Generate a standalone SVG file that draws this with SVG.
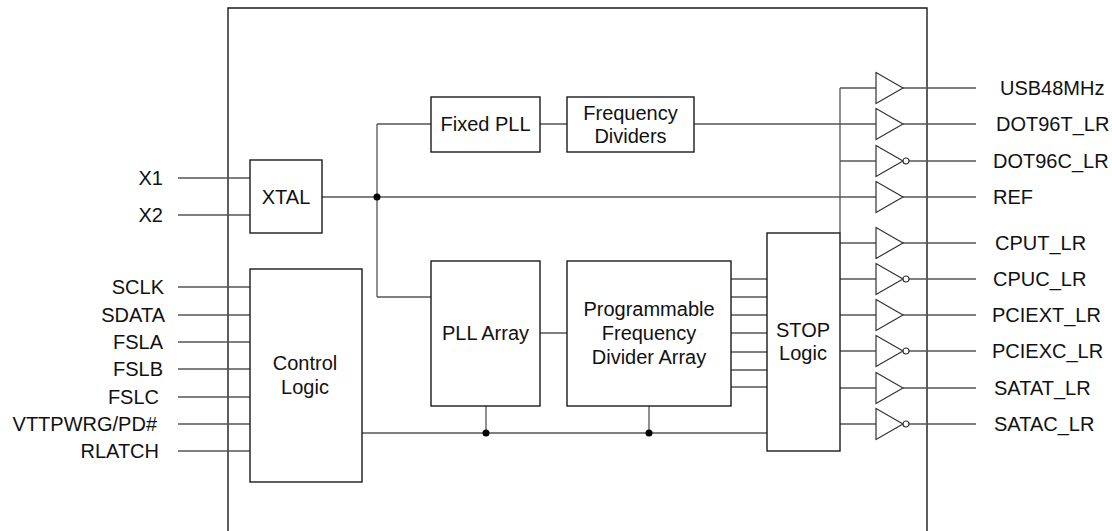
<svg xmlns="http://www.w3.org/2000/svg" xmlns:xlink="http://www.w3.org/1999/xlink" width="1112" height="531" viewBox="0 0 1112 531">
<style>
.box{fill:#fff;stroke:#1a1a1a;stroke-width:1.4}
.chip{fill:none;stroke:#1a1a1a;stroke-width:1.4}
.w{fill:none;stroke:#555;stroke-width:1.3}
.g{fill:#fff;stroke:#333;stroke-width:1.2}
.dot{fill:#000}
text{font-family:"Liberation Sans",Arial,sans-serif;font-size:20px;fill:#111}
.c{text-anchor:middle}
.e{text-anchor:end}
</style>
<defs>
<path id="buf" class="g" d="M0,-15.5 L0,15.5 L27,0 Z"/>
<g id="inv"><path class="g" d="M0,-15.5 L0,15.5 L27,0 Z"/><circle class="g" cx="30" cy="0" r="3"/></g>
</defs>
<rect width="1112" height="531" fill="#fff"/>
<path id="chip" class="chip" d="M228,535 V8 H927 V535"/>
<g id="connectors">
<path class="w" d="M178,178H250 M178,215H250 M178,287H250 M178,315H250 M178,342H250 M178,369H250 M178,397H250 M178,424H250 M178,451H250"/>
<path class="w" d="M322,197H876 M377,124V297 M377,124H431 M540,124H567 M694,124H876 M377,297H431 M540,333H567"/>
<path class="w" d="M731,279H767 M731,297H767 M731,315H767 M731,333H767 M731,352H767 M731,370H767 M731,387H767"/>
<path class="w" d="M362,433H767 M486,406V433 M649,406V433"/>
<path class="w" d="M840,233V88 M840,88H876 M840,161H876"/>
<path class="w" d="M840,243H876 M840,279H876 M840,315H876 M840,351H876 M840,388H876 M840,424H876"/>
<path class="w" d="M903,88H976 M903,124H976 M909,161H976 M903,197H976 M903,243H976 M909,279H976 M903,315H976 M909,351H976 M903,388H976 M909,424H976"/>
<circle class="dot" cx="377" cy="197" r="3.5"/>
<circle class="dot" cx="486" cy="433" r="3.5"/>
<circle class="dot" cx="649" cy="433" r="3.5"/>
</g>
<g id="pins-in">
<text class="e" x="163" y="185">X1</text>
<text class="e" x="163" y="222">X2</text>
<text class="e" x="164" y="294">SCLK</text>
<text class="e" x="165" y="322">SDATA</text>
<text class="e" x="163" y="349">FSLA</text>
<text class="e" x="163" y="376">FSLB</text>
<text class="e" x="159" y="404">FSLC</text>
<text class="e" x="157" y="431">VTTPWRG/PD#</text>
<text class="e" x="159" y="458">RLATCH</text>
</g>
<g id="xtal"><rect class="box" x="250" y="160" width="72" height="73"/><text class="c" x="286" y="204">XTAL</text></g>
<g id="control-logic"><rect class="box" x="250" y="269" width="112" height="213"/><text class="c" x="305" y="370">Control</text><text class="c" x="305" y="394">Logic</text></g>
<g id="fixed-pll"><rect class="box" x="431" y="97" width="109" height="55"/><text class="c" x="485.5" y="131">Fixed PLL</text></g>
<g id="freq-dividers"><rect class="box" x="567" y="97" width="127" height="55"/><text class="c" x="630.5" y="120">Frequency</text><text class="c" x="630.5" y="143">Dividers</text></g>
<g id="pll-array"><rect class="box" x="431" y="261" width="109" height="145"/><text class="c" x="485.5" y="340">PLL Array</text></g>
<g id="pfda"><rect class="box" x="567" y="261" width="164" height="145"/><text class="c" x="649" y="316">Programmable</text><text class="c" x="649" y="340">Frequency</text><text class="c" x="649" y="364">Divider Array</text></g>
<g id="stop-logic"><rect class="box" x="767" y="233" width="73" height="218"/><text class="c" x="803" y="337">STOP</text><text class="c" x="803" y="360">Logic</text></g>
<g id="buffers">
<use xlink:href="#buf" x="876" y="88"/>
<use xlink:href="#buf" x="876" y="124"/>
<use xlink:href="#inv" x="876" y="161"/>
<use xlink:href="#buf" x="876" y="197"/>
<use xlink:href="#buf" x="876" y="243"/>
<use xlink:href="#inv" x="876" y="279"/>
<use xlink:href="#buf" x="876" y="315"/>
<use xlink:href="#inv" x="876" y="351"/>
<use xlink:href="#buf" x="876" y="388"/>
<use xlink:href="#inv" x="876" y="424"/>
</g>
<g id="pins-out">
<text x="1000" y="95">USB48MHz</text>
<text x="996" y="131">DOT96T_LR</text>
<text x="993" y="168">DOT96C_LR</text>
<text x="993" y="204">REF</text>
<text x="995" y="250">CPUT_LR</text>
<text x="993" y="286">CPUC_LR</text>
<text x="992" y="322">PCIEXT_LR</text>
<text x="992" y="358">PCIEXC_LR</text>
<text x="994" y="395">SATAT_LR</text>
<text x="994" y="431">SATAC_LR</text>
</g>
</svg>
